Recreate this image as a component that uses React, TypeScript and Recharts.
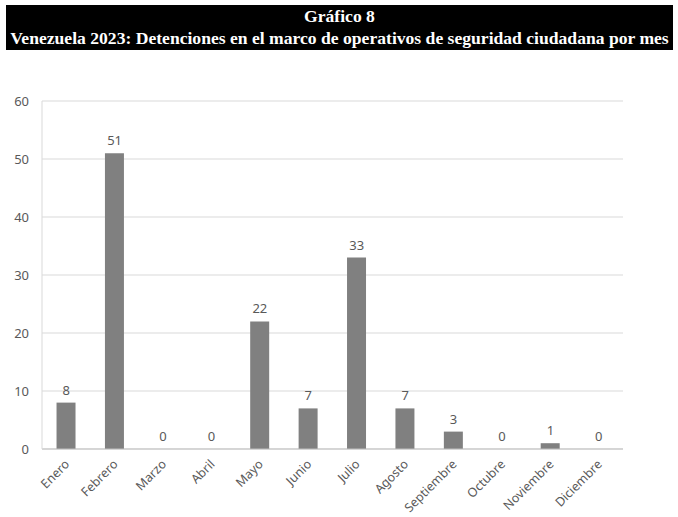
import { ComposedChart, Bar, Line, XAxis, YAxis, CartesianGrid, LabelList } from "recharts";

const months = [
  "Enero", "Febrero", "Marzo", "Abril", "Mayo", "Junio",
  "Julio", "Agosto", "Septiembre", "Octubre", "Noviembre", "Diciembre",
];
const detenciones = [8, 51, 0, 0, 22, 7, 33, 7, 3, 0, 1, 0];
const yTicks = [0, 10, 20, 30, 40, 50, 60];

const data = months.map((mes, i) => ({ mes, value: detenciones[i] }));

const textColor = "#595959";
const font = "'Noto Sans', sans-serif";

function MonthTick({ x, y, payload }: any) {
  const tx = x + 4;
  const ty = y + 8;
  return (
    <text
      x={tx}
      y={ty}
      transform={`rotate(-45, ${tx}, ${ty})`}
      textAnchor="end"
      fill={textColor}
      fontSize={12.5}
      fontFamily={font}
    >
      {payload.value}
    </text>
  );
}

export default function App() {
  return (
    <div style={{ position: "absolute", left: 0, top: 0, width: 678, height: 517, background: "#fff" }}>
      <div
        style={{
          position: "absolute", left: 6, top: 5, width: 667, height: 45,
          background: "#000", color: "#fff", textAlign: "center",
          fontFamily: "'Liberation Serif', serif", fontWeight: "bold",
          fontSize: 17.6, lineHeight: "22px", paddingTop: 0,
        }}
      >
        <div>Gráfico 8</div>
        <div style={{ whiteSpace: "nowrap" }}>
          Venezuela 2023: Detenciones en el marco de operativos de seguridad ciudadana por mes
        </div>
      </div>
      <ComposedChart
        width={678}
        height={517}
        data={data}
        margin={{ top: 101, right: 55, bottom: 0, left: 0 }}
        barCategoryGap="30%"
      >
        <CartesianGrid vertical={false} stroke="#d9d9d9" />
        <XAxis
          dataKey="mes"
          interval={0}
          height={68}
          tickLine={false}
          axisLine={{ stroke: "#bfbfbf" }}
          tick={<MonthTick />}
        />
        <YAxis
          width={42}
          domain={[0, 60]}
          ticks={yTicks}
          tickLine={false}
          tickSize={0}
          tickMargin={13}
          axisLine={{ stroke: "#d9d9d9" }}
          tick={{ fill: textColor, fontSize: 13, fontFamily: font }}
        />
        <Bar dataKey="value" fill="#808080" isAnimationActive={false} />
        <Line
          dataKey="value"
          stroke="none"
          dot={false}
          activeDot={false}
          isAnimationActive={false}
        >
          <LabelList
            dataKey="value"
            position="top"
            offset={8}
            fill={textColor}
            fontSize={13}
            fontFamily={font}
          />
        </Line>
      </ComposedChart>
    </div>
  );
}
